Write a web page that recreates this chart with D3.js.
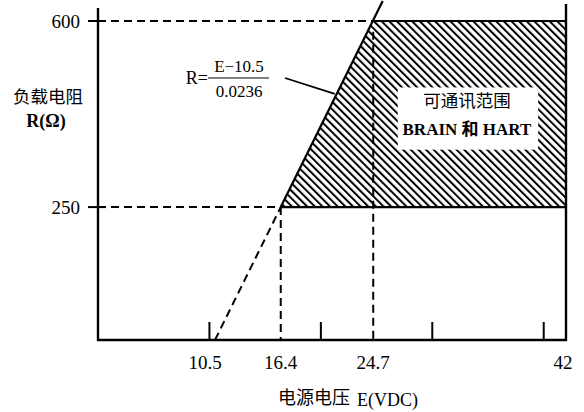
<!DOCTYPE html>
<html><head><meta charset="utf-8">
<script src="https://cdn.jsdelivr.net/npm/d3@7/dist/d3.min.js"></script>
<style>
html,body{margin:0;padding:0;background:#fff;}
svg{display:block;}
text{font-family:"Liberation Serif","Noto Sans CJK SC",serif;fill:#000;}
</style></head>
<body>
<svg id="c" width="584" height="412"></svg>
<script>
// ---- data ----
const xDomain = [0, 42];
const yDomain = [0, 600];
const xTicks = [10, 20, 30, 40];          // unlabeled tick marks
const xLabels = [10.5, 16.4, 24.7, 42];   // labeled values
const yLabels = [250, 600];
const E0 = 10.5;       // R = (E - 10.5) / 0.0236
const k = 0.0236;
const Rmin = 250, Rmax = 600;
const Emin = 16.4, Emax = 24.7, Etop = 42;
const regionPts = [[Emin, Rmin], [Emax, Rmax], [Etop, Rmax], [Etop, Rmin]];
const regionTitle = ["可通讯范围", "BRAIN 和 HART"];
const yTitle = ["负载电阻", "R(Ω)"];
const xTitle = ["电源电压", "E(VDC)"];

const svg = d3.select("#c");
const x = d3.scaleLinear().domain(xDomain).range([98, 566]);
const y = d3.scaleLinear().domain(yDomain).range([340, 21]);
const Rline = e => (e - E0) / k;

// hatch pattern
const defs = svg.append("defs");
const pw = 5.4;
const pat = defs.append("pattern").attr("id", "hatch")
  .attr("patternUnits", "userSpaceOnUse").attr("width", pw).attr("height", pw)
  .attr("patternTransform", "rotate(-45)");
pat.append("line").attr("x1", 1).attr("y1", 0).attr("x2", 1).attr("y2", pw)
  .attr("stroke", "#000").attr("stroke-width", 2);

const line = d3.line().x(d => x(d[0])).y(d => y(d[1]));

// hatched region
svg.append("path").attr("d", line(regionPts) + "Z")
  .attr("fill", "url(#hatch)").attr("stroke", "none");

// region outline (top and bottom solid edges)
svg.append("path").datum([[Emax, Rmax], [Etop, Rmax]]).attr("d", line)
  .attr("stroke", "#000").attr("stroke-width", 2.2).attr("fill", "none");
svg.append("path").datum([[Emin, Rmin], [Etop, Rmin]]).attr("d", line)
  .attr("stroke", "#000").attr("stroke-width", 2.2).attr("fill", "none");

// solid load line from Emin up past top
const Eend = E0 + k * y.invert(1);
svg.append("path").datum([[Emin, Rline(Emin)], [Eend, Rline(Eend)]]).attr("d", line)
  .attr("stroke", "#000").attr("stroke-width", 2.2).attr("fill", "none");

// dashed lines
const dash = "8,5";
const dashed = [
  [[E0, 0], [Emin, Rline(Emin)]],
  [[xDomain[0], Rmin], [Emin, Rmin]],
  [[xDomain[0], Rmax], [Emax, Rmax]],
  [[Emin, Rmin], [Emin, 0]],
  [[Emax, Rmax - 20], [Emax, 0]]
];
svg.selectAll(".dash").data(dashed).enter().append("path")
  .attr("d", line).attr("stroke", "#000").attr("stroke-width", 2)
  .attr("stroke-dasharray", dash).attr("fill", "none");

// white label box
const bx0 = x(26.9), bx1 = x(39.5), by0 = y(475), by1 = y(358);
svg.append("rect").attr("x", bx0).attr("y", by0).attr("width", bx1 - bx0).attr("height", by1 - by0)
  .attr("fill", "#fff");
const bcx = (bx0 + bx1) / 2 - 1;
svg.append("text").attr("x", bcx).attr("y", by0 + 20).attr("text-anchor", "middle")
  .style("font-size", "17.5px").text(regionTitle[0]);
svg.append("text").attr("x", bcx).attr("y", by0 + 48).attr("text-anchor", "middle")
  .style("font-size", "17px").style("font-weight", "bold").text(regionTitle[1]);

// axes frame
const x0 = x(xDomain[0]), x1 = x(xDomain[1]), yb = y(0);
svg.append("line").attr("x1", x0).attr("x2", x0).attr("y1", 8).attr("y2", yb + 1)
  .attr("stroke", "#000").attr("stroke-width", 2.4);
svg.append("line").attr("x1", x1).attr("x2", x1).attr("y1", 4).attr("y2", yb + 1)
  .attr("stroke", "#000").attr("stroke-width", 2.4);
svg.append("line").attr("x1", x0 - 1).attr("x2", x1 + 1).attr("y1", yb).attr("y2", yb)
  .attr("stroke", "#000").attr("stroke-width", 2.4);

// x ticks (upward)
svg.selectAll(".xt").data(xTicks).enter().append("line")
  .attr("x1", d => x(d)).attr("x2", d => x(d)).attr("y1", yb).attr("y2", yb - 18)
  .attr("stroke", "#000").attr("stroke-width", 2);
// x labels
svg.selectAll(".xl").data(xLabels).enter().append("text")
  .attr("x", d => x(d) + (d === 42 ? -3 : (d === 10.5 ? -10 : 0))).attr("y", yb + 29).attr("text-anchor", "middle")
  .style("font-size", "19px").text(d => d);

// y ticks (crosses)
svg.selectAll(".yt").data(yLabels).enter().append("line")
  .attr("x1", x0 - 10).attr("x2", x0 + 8).attr("y1", d => y(d)).attr("y2", d => y(d))
  .attr("stroke", "#000").attr("stroke-width", 2);
svg.selectAll(".yl").data(yLabels).enter().append("text")
  .attr("x", x0 - 18).attr("y", d => y(d) + 7).attr("text-anchor", "end")
  .style("font-size", "19px").text(d => d);

// y title
svg.append("text").attr("x", 48).attr("y", 103).attr("text-anchor", "middle")
  .style("font-size", "17.5px").text(yTitle[0]);
svg.append("text").attr("x", 46).attr("y", 127).attr("text-anchor", "middle")
  .style("font-size", "18px").style("font-weight", "bold").text(yTitle[1]);

// x title
svg.append("text").attr("x", 350).attr("y", 404).attr("text-anchor", "end")
  .style("font-size", "18px").text(xTitle[0]);
svg.append("text").attr("x", 357).attr("y", 406).attr("text-anchor", "start")
  .style("font-size", "18px").text(xTitle[1]);

// formula
const fx = 239, fy = 78;
svg.append("text").attr("x", fx - 31).attr("y", fy + 6).attr("text-anchor", "end")
  .style("font-size", "18px").text("R=");
svg.append("text").attr("x", fx).attr("y", fy - 6).attr("text-anchor", "middle")
  .style("font-size", "17px").text("E\u221210.5");
svg.append("line").attr("x1", fx - 31).attr("x2", fx + 30).attr("y1", fy).attr("y2", fy)
  .attr("stroke", "#000").attr("stroke-width", 1.2);
svg.append("text").attr("x", fx).attr("y", fy + 19).attr("text-anchor", "middle")
  .style("font-size", "17px").text("0.0236");
// leader to the line
const leadR = 463;
const leadE = E0 + k * leadR;
svg.append("line").attr("x1", fx + 46).attr("y1", fy)
  .attr("x2", x(leadE) - 2).attr("y2", y(leadR))
  .attr("stroke", "#000").attr("stroke-width", 1.8);
</script>
</body></html>
